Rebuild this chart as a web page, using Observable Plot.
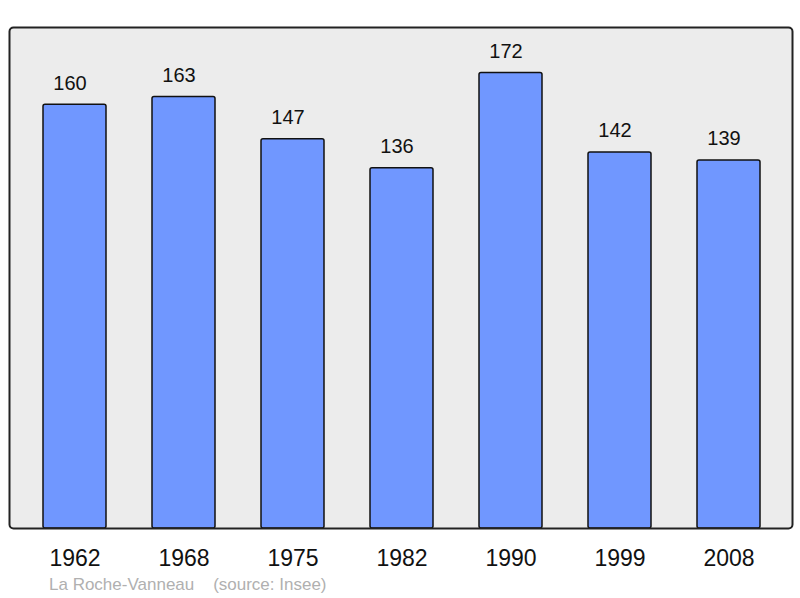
<!DOCTYPE html>
<html>
<head>
<meta charset="utf-8">
<script src="https://cdn.jsdelivr.net/npm/d3@7"></script>
<script src="https://cdn.jsdelivr.net/npm/@observablehq/plot@0.6"></script>
<style>
  html, body { margin: 0; padding: 0; background: #fff; }
  #chart { position: relative; width: 800px; height: 598px; }
  #caption { position: absolute; left: 49px; top: 575px; font-family: "Liberation Sans", Arial, sans-serif; font-size: 17px; color: #b0b0b0; white-space: pre; line-height: 20px; }
</style>
</head>
<body>
<div id="chart"></div>
<script>
const years = ["1962", "1968", "1975", "1982", "1990", "1999", "2008"];
const population = [160, 163, 147, 136, 172, 142, 139];
const captionText = "La Roche-Vanneau    (source: Insee)";

const data = years.map((y, i) => ({year: y, value: population[i]}));
const maxV = d3.max(population);

const plot = Plot.plot({
  width: 800,
  height: 570,
  marginTop: 27,
  marginBottom: 42,
  marginLeft: 9,
  marginRight: 8,
  style: {fontFamily: "'Liberation Sans', Arial, sans-serif", background: "transparent"},
  x: {domain: years, range: [41.5, 761.5], paddingInner: 0.424, paddingOuter: 0, label: null},
  y: {domain: [0, maxV * 1.1], axis: null},
  marks: [
    Plot.frame({fill: "#ececec", stroke: "none"}),
    Plot.barY(data, {x: "year", y: "value", fill: "#7097ff", stroke: "#111", strokeWidth: 1.5, rx: 2}),
    Plot.text(data, {x: "year", y: "value", text: d => String(d.value), dy: -21.5, dx: -5, fontSize: 20, fill: "#111"}),
    Plot.frame({stroke: "#222", strokeWidth: 2, rx: 4, fill: "none"}),
    Plot.axisX({tickSize: 0, tickPadding: 21, fontSize: 23, label: null, color: "#111"})
  ]
});
document.getElementById("chart").appendChild(plot);
const cap = document.createElement("div");
cap.id = "caption";
cap.textContent = captionText;
document.getElementById("chart").appendChild(cap);
</script>
</body>
</html>
